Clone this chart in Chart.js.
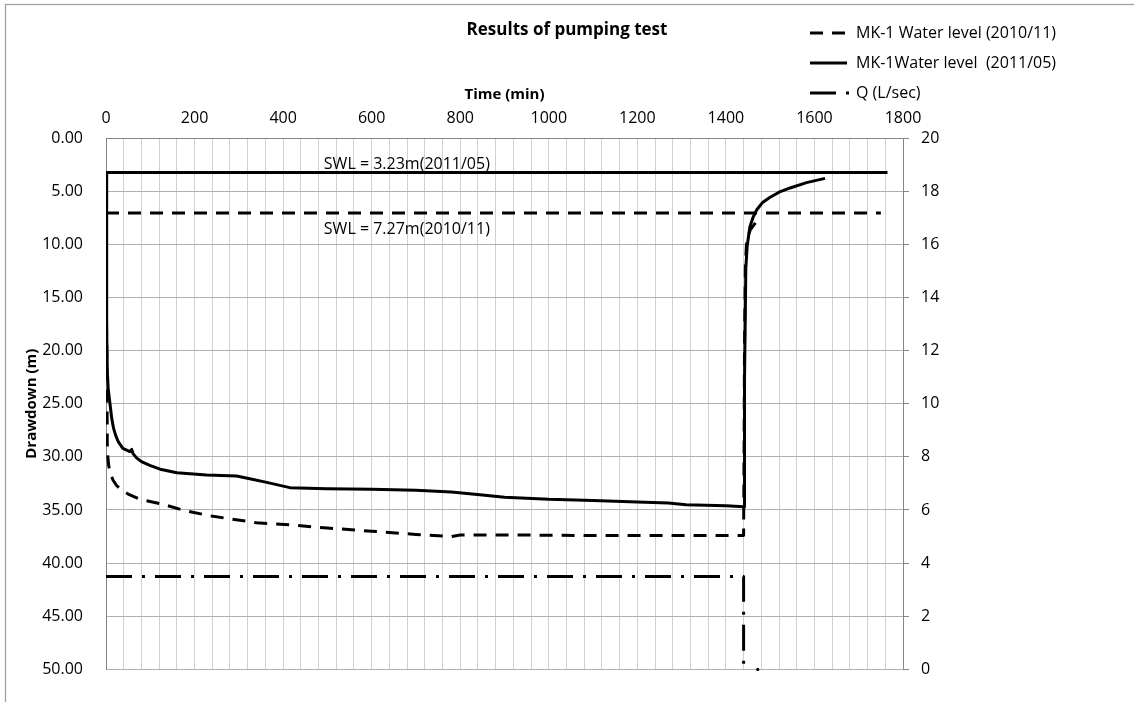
<!DOCTYPE html>
<html lang="en">
<head>
  <meta charset="UTF-8">
  <title>Results of pumping test</title>
  <style>
    body {
      margin: 0;
      background: white;
    }
    .chart-box {
      width: 1134px;
      height: 702px;
      position: relative;
    }
  </style>
  <script src="https://cdn.jsdelivr.net/npm/chart.js"></script>
</head>
<body>
  <div class="chart-box">
    <canvas id="pumpChart"></canvas>
  </div>

  <script>
    // MK-1 water level, 2010/11 test (time in min, drawdown in m)
    const nov2010Time  = [0, 1, 2, 3, 6, 10, 16, 24, 34, 50, 77, 122, 182, 242, 340, 415, 500, 600, 700, 780, 800, 900, 1100, 1300, 1440, 1441, 1442, 1444, 1447, 1455, 1470];
    const nov2010Level = [7.1, 15, 22, 29.5, 30.8, 31.6, 32.2, 32.7, 33.1, 33.5, 34.0, 34.4, 35.1, 35.6, 36.2, 36.4, 36.7, 37.0, 37.3, 37.5, 37.35, 37.35, 37.4, 37.4, 37.4, 30, 20, 12, 9.6, 8.65, 7.8];

    // MK-1 water level, 2011/05 test
    const may2011Time  = [0, 1, 2, 3, 5, 9, 13, 17, 22, 28, 38, 54, 58, 61, 69, 80, 99, 125, 160, 227, 295, 330, 363, 415, 500, 600, 700, 780, 850, 900, 1000, 1100, 1200, 1270, 1310, 1400, 1441, 1442, 1445, 1448, 1454, 1461, 1469, 1482, 1499, 1520, 1545, 1582, 1624];
    const may2011Level = [3.25, 12, 18, 22, 23.6, 25, 26.4, 27.3, 28.0, 28.6, 29.2, 29.5, 29.3, 29.7, 30.1, 30.45, 30.8, 31.2, 31.5, 31.7, 31.8, 32.1, 32.4, 32.9, 33.0, 33.05, 33.15, 33.3, 33.6, 33.8, 34.0, 34.1, 34.25, 34.35, 34.5, 34.6, 34.7, 23, 12.3, 10.2, 8.4, 7.5, 6.8, 6.1, 5.6, 5.1, 4.7, 4.2, 3.8];

    // pumping rate (right axis)
    const qTime = [0, 1440, 1440];
    const qRate = [3.5, 3.5, 0];

    // static water levels
    const swlMayTime = [0, 1765];
    const swlMayLevel = [3.25, 3.25];
    const swlNovTime = [0, 1750];
    const swlNovLevel = [7.05, 7.05];

    const seriesNames = ['MK-1 Water level (2010/11)', 'MK-1Water level  (2011/05)', 'Q (L/sec)'];
    const swlLabels = ['SWL = 3.23m(2011/05)', 'SWL = 7.27m(2010/11)'];

    const pairs = (xs, ys) => xs.map((x, i) => ({ x: x, y: ys[i] }));

    Chart.defaults.font.family = '"Open Sans", sans-serif';
    Chart.defaults.color = '#000';

    const dashed = [13, 9];
    const dashDot = [26, 10, 3, 10];

    // frame, SWL notes and the legend are drawn by hand
    const extras = {
      id: 'extras',
      beforeDraw(chart) {
        const ctx = chart.ctx;
        ctx.save();
        ctx.fillStyle = 'white';
        ctx.fillRect(0, 0, chart.width, chart.height);
        ctx.strokeStyle = '#a0a0a0';
        ctx.lineWidth = 1.3;
        ctx.strokeRect(5.5, 4.5, chart.width + 20, chart.height + 20);
        ctx.restore();
      },
      afterDraw(chart) {
        const ctx = chart.ctx;
        const x = chart.scales.x;
        const y = chart.scales.y;
        const y2 = chart.scales.y2;
        ctx.save();
        ctx.fillStyle = '#000';
        ctx.font = '16px "Open Sans"';
        ctx.textBaseline = 'middle';
        ctx.fillText(swlLabels[0], x.getPixelForValue(492), y.getPixelForValue(2.45));
        ctx.fillText(swlLabels[1], x.getPixelForValue(492), y.getPixelForValue(8.6));

        // lone dot of the Q line after the stop
        ctx.beginPath();
        ctx.arc(x.getPixelForValue(1472), y2.getPixelForValue(0), 1.6, 0, Math.PI * 2);
        ctx.fill();

        // legend
        for (let i = 0; i < 3; i++) {
          const ds = chart.data.datasets[i];
          const ly = 33 + i * 30;
          ctx.setLineDash(ds.borderDash || []);
          ctx.lineWidth = ds.borderWidth;
          ctx.strokeStyle = ds.borderColor;
          ctx.beginPath();
          ctx.moveTo(810, ly);
          ctx.lineTo(i === 2 ? 852 : 847, ly);
          ctx.stroke();
          ctx.setLineDash([]);
          ctx.fillText(ds.label, 856, ly);
        }
        ctx.restore();
      }
    };

    const ctx = document.getElementById('pumpChart').getContext('2d');
    const pumpChart = new Chart(ctx, {
      type: 'scatter',
      data: {
        datasets: [
          {
            label: seriesNames[0],
            data: pairs(nov2010Time, nov2010Level),
            borderColor: '#000',
            borderWidth: 3,
            borderDash: dashed,
            yAxisID: 'y'
          },
          {
            label: seriesNames[1],
            data: pairs(may2011Time, may2011Level),
            borderColor: '#000',
            borderWidth: 3,
            yAxisID: 'y'
          },
          {
            label: seriesNames[2],
            data: pairs(qTime, qRate),
            borderColor: '#000',
            borderWidth: 3,
            borderDash: dashDot,
            yAxisID: 'y2'
          },
          {
            label: 'SWL 2011/05',
            data: pairs(swlMayTime, swlMayLevel),
            borderColor: '#000',
            borderWidth: 3,
            yAxisID: 'y'
          },
          {
            label: 'SWL 2010/11',
            data: pairs(swlNovTime, swlNovLevel),
            borderColor: '#000',
            borderWidth: 3,
            borderDash: dashed,
            yAxisID: 'y'
          }
        ]
      },
      options: {
        responsive: true,
        maintainAspectRatio: false,
        animation: false,
        showLine: true,
        elements: {
          point: { radius: 0, hoverRadius: 0 },
          line: { tension: 0, borderJoinStyle: 'round', fill: false }
        },
        layout: {
          padding: { left: 0, right: 0, top: 0, bottom: 13 }
        },
        scales: {
          x: {
            type: 'linear',
            position: 'top',
            min: 0,
            max: 1800,
            afterFit: (scale) => { scale.height = 97.6; },
            title: {
              display: true,
              text: 'Time (min)',
              font: { size: 15, weight: 'bold' },
              padding: { top: 45.6, bottom: 0 }
            },
            ticks: {
              stepSize: 40,
              autoSkip: false,
              maxRotation: 0,
              padding: 10,
              font: { size: 16 },
              callback: (v) => (v % 200 === 0 ? v : '')
            },
            grid: { color: '#d0d0d0', drawTicks: false },
            border: { color: '#868686' }
          },
          y: {
            position: 'left',
            reverse: true,
            min: 0,
            max: 50,
            afterFit: (scale) => { scale.width = 106; },
            title: {
              display: true,
              text: 'Drawdown (m)',
              font: { size: 15, weight: 'bold' },
              padding: { top: 23, bottom: 0 }
            },
            ticks: {
              stepSize: 5,
              padding: 23,
              font: { size: 16 },
              callback: (v) => v.toFixed(2)
            },
            grid: { color: '#b0b0b0', drawTicks: false },
            border: { color: '#868686' }
          },
          y2: {
            position: 'right',
            min: 0,
            max: 20,
            afterFit: (scale) => { scale.width = 231; },
            ticks: {
              stepSize: 2,
              padding: 12,
              font: { size: 16 }
            },
            grid: { drawOnChartArea: false, tickLength: 6, color: '#868686' },
            border: { color: '#868686' }
          }
        },
        plugins: {
          legend: { display: false },
          tooltip: { enabled: false },
          title: {
            display: true,
            text: 'Results of pumping test',
            font: { size: 17, weight: 'bold' },
            padding: { top: 20, bottom: 0 }
          }
        }
      },
      plugins: [extras]
    });
  </script>
</body>
</html>
